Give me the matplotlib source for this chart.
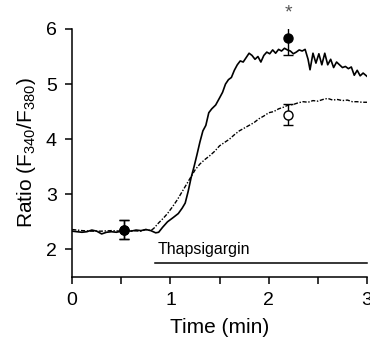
import matplotlib
matplotlib.use("Agg")
import matplotlib.pyplot as plt

plt.rcParams["font.family"] = ["Liberation Sans", "DejaVu Sans"]
plt.rcParams["mathtext.fontset"] = "custom"
plt.rcParams["mathtext.rm"] = "Liberation Sans"

# Control trace (solid)
t_solid = [0.0, 0.05, 0.1, 0.15, 0.2, 0.25, 0.3, 0.35, 0.4, 0.45, 0.5, 0.55, 0.6, 0.65,
           0.7, 0.75, 0.8, 0.85, 0.88, 0.92, 0.97, 1.03, 1.08, 1.12, 1.15, 1.18, 1.21,
           1.24, 1.27, 1.30, 1.33, 1.36, 1.39, 1.42, 1.46, 1.50, 1.53, 1.56, 1.59, 1.62,
           1.65, 1.68, 1.71, 1.74, 1.77, 1.80, 1.83, 1.86, 1.89, 1.92, 1.95, 1.98, 2.01,
           2.04, 2.07, 2.10, 2.13, 2.16, 2.19, 2.22, 2.25, 2.28, 2.31, 2.34, 2.37, 2.40,
           2.42, 2.45, 2.48, 2.51, 2.54, 2.57, 2.60, 2.63, 2.66, 2.69, 2.72, 2.75, 2.78,
           2.81, 2.84, 2.87, 2.90, 2.93, 2.96, 3.0]
r_solid = [2.33, 2.32, 2.31, 2.32, 2.35, 2.33, 2.28, 2.31, 2.32, 2.31, 2.33, 2.35, 2.33, 2.35,
           2.34, 2.36, 2.34, 2.30, 2.31, 2.40, 2.50, 2.58, 2.65, 2.75, 2.84, 3.05, 3.30,
           3.50, 3.72, 3.95, 4.15, 4.25, 4.48, 4.55, 4.62, 4.75, 4.85, 5.00, 5.08, 5.12,
           5.25, 5.35, 5.42, 5.40, 5.48, 5.56, 5.52, 5.45, 5.50, 5.40, 5.52, 5.58, 5.55,
           5.62, 5.56, 5.63, 5.60, 5.65, 5.62, 5.60, 5.55, 5.58, 5.62, 5.60, 5.63, 5.45,
           5.26, 5.56, 5.38, 5.55, 5.35, 5.56, 5.35, 5.45, 5.30, 5.40, 5.35, 5.30, 5.32,
           5.28, 5.31, 5.16, 5.25, 5.15, 5.20, 5.14]

# Treated trace (dash-dot)
t_dash = [0.0, 0.05, 0.1, 0.2, 0.3, 0.4, 0.5, 0.6, 0.7, 0.75, 0.8, 0.83, 0.88, 0.93, 0.97,
          1.02, 1.07, 1.12, 1.17, 1.21, 1.25, 1.30, 1.35, 1.40, 1.45, 1.50, 1.55, 1.60,
          1.65, 1.70, 1.75, 1.80, 1.85, 1.90, 1.95, 2.00, 2.05, 2.10, 2.15, 2.20, 2.25,
          2.30, 2.35, 2.40, 2.45, 2.50, 2.55, 2.60, 2.65, 2.70, 2.75, 2.80, 2.85, 2.90,
          2.95, 3.0]
r_dash = [2.36, 2.35, 2.34, 2.33, 2.33, 2.34, 2.33, 2.34, 2.33, 2.36, 2.34, 2.38, 2.48, 2.57,
          2.65, 2.77, 2.90, 3.05, 3.20, 3.32, 3.44, 3.55, 3.63, 3.70, 3.78, 3.88, 3.94,
          4.00, 4.08, 4.15, 4.20, 4.25, 4.30, 4.37, 4.42, 4.48, 4.50, 4.55, 4.58, 4.62,
          4.63, 4.66, 4.68, 4.67, 4.70, 4.69, 4.72, 4.74, 4.71, 4.72, 4.70, 4.71, 4.68,
          4.68, 4.67, 4.67]

# Mean +/- SEM points
pt_time = [0.53, 2.2]
filled_mean = [2.35, 5.84]
filled_err_lo = [0.17, 0.32]
filled_err_hi = [0.18, 0.33]
open_mean = [2.35, 4.44]
open_err_lo = [0.17, 0.19]
open_err_hi = [0.18, 0.20]

drug_start, drug_end, drug_level = 0.84, 3.0, 1.75

fig = plt.figure(figsize=(3.7, 3.41), dpi=100)
ax = fig.add_axes([0.195, 0.188, 0.797, 0.727])

ax.plot(t_solid, r_solid, color="black", lw=1.2)
ax.plot(t_dash, r_dash, color="black", lw=1.0, dashes=(3, 1.2, 1, 1.2))

ax.errorbar(pt_time, open_mean, yerr=[open_err_lo, open_err_hi], fmt="o", mfc="white",
            mec="black", ecolor="black", ms=6.5, mew=1, capsize=3.5, elinewidth=1, zorder=4)
ax.errorbar(pt_time, filled_mean, yerr=[filled_err_lo, filled_err_hi], fmt="o", mfc="black",
            mec="black", ecolor="black", ms=6.5, capsize=3.5, elinewidth=1, zorder=5)
ax.text(2.2, 6.29, "*", ha="center", va="center", fontsize=14, color="#555555")

ax.plot([drug_start, drug_end], [drug_level, drug_level], color="black", lw=1.1, clip_on=False)
ax.text(drug_start + 0.03, drug_level + 0.12, "Thapsigargin", fontsize=11.5, ha="left", va="bottom")

ax.set_xlim(0, 3)
ax.set_ylim(1.5, 6)
ax.set_xticks([0, 1, 2, 3])
ax.set_xticks([0.5, 1.5, 2.5], minor=True)
ax.set_yticks([2, 3, 4, 5, 6])
ax.spines["top"].set_visible(False)
ax.spines["right"].set_visible(False)
for s in ("left", "bottom"):
    ax.spines[s].set_linewidth(1.1)
ax.tick_params(which="both", direction="out", length=5, width=1.1, labelsize=14)
ax.tick_params(axis="y", pad=6)
ax.tick_params(axis="x", pad=6)
ax.set_xlabel("Time (min)", fontsize=15, labelpad=6)
ax.set_ylabel("Ratio (F$_{340}$/F$_{380}$)", fontsize=15, labelpad=6)

fig.savefig("out.png", dpi=100)
